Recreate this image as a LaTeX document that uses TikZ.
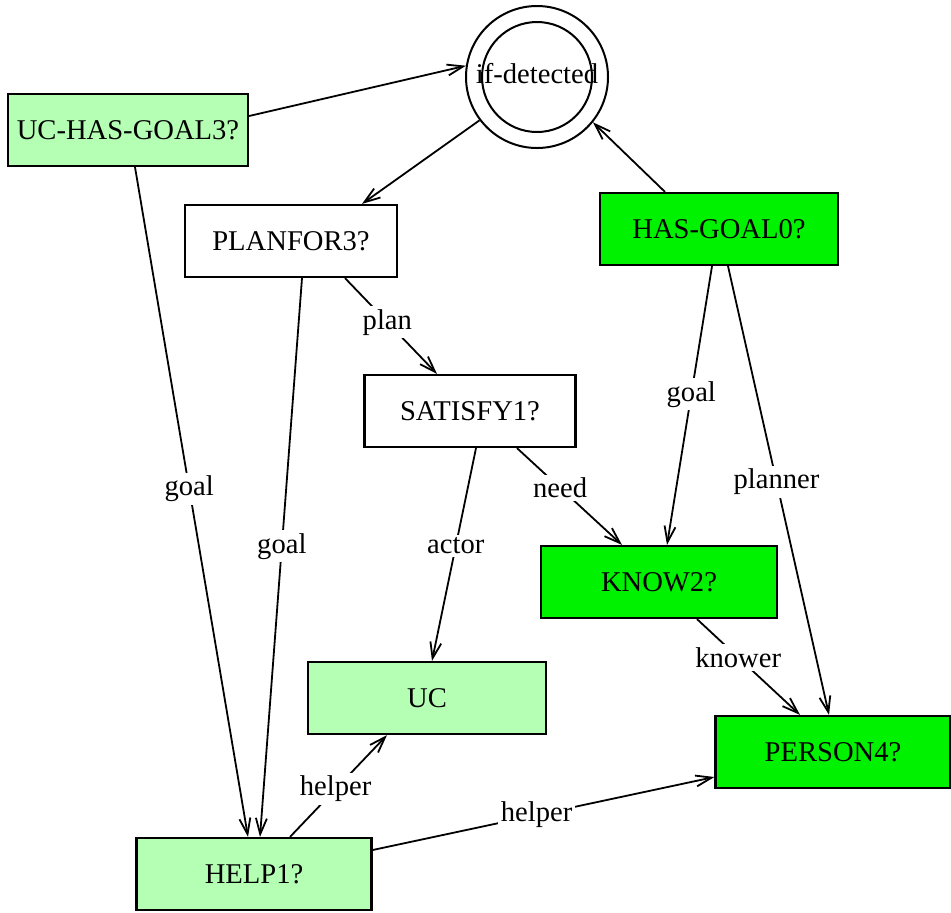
\documentclass[tikz,border=0pt]{standalone}
\usepackage{fontspec}
\setmainfont{Liberation Serif}
\usetikzlibrary{arrows.meta,calc}
\definecolor{lgreen}{RGB}{180,255,180}
\definecolor{bgreen}{RGB}{0,242,0}
\begin{document}
\begin{tikzpicture}[x=0.5pt,y=-0.5pt,
  every node/.style={font=\fontsize{14.3}{17}\selectfont},
  box/.style={draw,line width=1.1pt,inner sep=0pt,minimum width=118pt,minimum height=36pt},
  lbox/.style={box,fill=lgreen},
  gbox/.style={box,fill=bgreen},
  wbox/.style={box,fill=white,minimum width=106pt},
  edge/.style={line width=0.9pt,-{Straight Barb[length=8pt,width=5.5pt,line width=0.9pt]}},
  lbl/.style={fill=white,inner sep=1.5pt}]
\useasboundingbox (0,0) rectangle (951,912);
% nodes
\node[draw,line width=1pt,circle,minimum size=71pt,inner sep=0pt] (det) at (537,77) {};
\node[draw,line width=1pt,circle,minimum size=55pt,inner sep=0pt] (deti) at (537,77) {};
\node at (537,74) {if-detected};
\node[lbox,minimum width=120pt] (uc3) at (128,130) {UC-HAS-GOAL3?};
\node[wbox] (plan) at (291,241) {PLANFOR3?};
\node[gbox,minimum width=119pt] (hg0) at (719,229) {HAS-GOAL0?};
\node[wbox,minimum width=105.5pt] (sat) at (470,411) {SATISFY1?};
\node[gbox] (know) at (659,582) {KNOW2?};
\node[lbox,minimum width=119pt] (uc) at (427,698) {UC};
\node[gbox,minimum width=117.5pt] (pers) at (833,752) {PERSON4?};
\node[lbox,minimum width=117.5pt] (help) at (254,874) {HELP1?};
% edges
\draw[edge] ([yshift=7pt]uc3.east) -- (det.171);
\draw[edge] (det.217) -- ([xshift=35.5pt]plan.north);
\draw[edge] ([xshift=-27pt]hg0.north) -- (det.321);
\draw[edge] ([xshift=3.5pt]uc3.south) -- node[lbl,pos=0.48] {goal} ([xshift=-3pt]help.north);
\draw[edge] ([xshift=5.5pt]plan.south) -- node[lbl,pos=0.48] {goal} ([xshift=3pt]help.north);
\draw[edge] ([xshift=27pt]plan.south) -- node[lbl,pos=0.46] {plan} ([xshift=-16.5pt]sat.north);
\draw[edge] ([xshift=3pt]sat.south) -- node[lbl,pos=0.46] {actor} ([xshift=2.5pt]uc.north);
\draw[edge] ([xshift=23.5pt]sat.south) -- node[lbl,pos=0.41] {need} ([xshift=-18.5pt]know.north);
\draw[edge] ([xshift=-3.5pt]hg0.south) -- node[lbl,pos=0.46] {goal} ([xshift=4pt]know.north);
\draw[edge] ([xshift=4.5pt]hg0.south) -- node[lbl,pos=0.48] {planner} ([xshift=-2pt]pers.north);
\draw[edge] ([xshift=19pt]know.south) -- node[lbl,pos=0.40] {knower} ([xshift=-16.5pt]pers.north);
\draw[edge] ([xshift=18pt]help.north) -- node[lbl,pos=0.47] {helper} ([xshift=-20pt]uc.south);
\draw[edge] ([yshift=12pt]help.east) -- node[lbl,pos=0.48] {helper} ([yshift=-12.5pt]pers.west);
\end{tikzpicture}
\end{document}
